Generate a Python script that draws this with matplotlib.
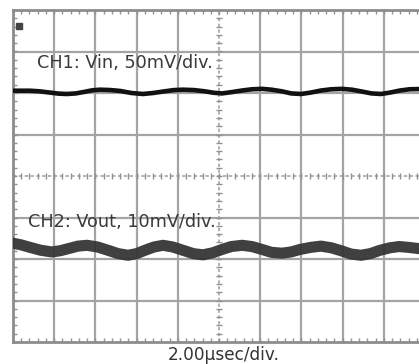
import matplotlib
matplotlib.use("Agg")
import matplotlib.pyplot as plt
import numpy as np

# time in microseconds (2 us/div), amplitudes in screen divisions
ch1_t = [0.0, 0.825, 1.3, 1.796, 2.2, 2.621, 3.05, 3.495, 3.85, 4.223, 4.7, 5.194, 5.75, 6.311,
         6.8, 7.282, 7.8, 8.252, 8.8, 9.32, 9.75, 10.146, 10.6, 11.117, 11.6, 12.087, 12.55,
         13.058, 13.5, 13.981, 14.45, 14.951, 15.45, 15.971, 16.45, 16.942, 17.4, 17.864,
         18.3, 18.786, 19.25, 19.709, 20.2]
ch1_v = [2.055, 2.055, 2.04, 2.01, 1.985, 1.976, 1.99, 2.03, 2.065, 2.08, 2.072, 2.05, 2.0, 1.976,
         2.0, 2.035, 2.07, 2.08, 2.07, 2.04, 2.005, 1.99, 2.02, 2.06, 2.09, 2.10, 2.08,
         2.04, 1.99, 1.976, 2.01, 2.06, 2.09, 2.10, 2.08, 2.035, 1.99, 1.976,
         2.01, 2.06, 2.09, 2.095, 2.08]
ch2_t = [0.0, 0.4, 0.825, 1.35, 1.893, 2.3, 2.767, 3.15, 3.592, 4.1, 4.612, 5.1, 5.583, 6.0,
         6.408, 6.85, 7.282, 7.75, 8.252, 8.75, 9.223, 9.7, 10.146, 10.6, 11.117, 11.6, 12.087,
         12.55, 13.058, 13.5, 13.932, 14.45, 14.951, 15.45, 15.922, 16.4, 16.893, 17.35,
         17.816, 18.3, 18.738, 19.2, 19.709, 20.2]
ch2_v = [-1.62, -1.66, -1.72, -1.79, -1.83, -1.80, -1.74, -1.69, -1.67, -1.71, -1.79, -1.87, -1.91, -1.87,
         -1.79, -1.71, -1.67, -1.71, -1.79, -1.87, -1.90, -1.85, -1.77, -1.70, -1.67, -1.70, -1.77,
         -1.84, -1.86, -1.83, -1.77, -1.72, -1.69, -1.73, -1.80, -1.88, -1.91, -1.87,
         -1.79, -1.73, -1.70, -1.72, -1.75, -1.77]

ch1_label = "CH1: Vin, 50mV/div."
ch2_label = "CH2: Vout, 10mV/div."
time_label = "2.00\u00b5sec/div."

W, H = 419, 364
fig = plt.figure(figsize=(W / 100, H / 100), dpi=100)
fig.patch.set_facecolor("white")
ax = fig.add_axes([13 / W, 22 / H, 412 / W, 332 / H])
ax.set_xlim(0, 20)
ax.set_ylim(-4, 4)
ax.set_facecolor("white")

grid_c = "#a4a4a4"
for x in np.arange(2, 20, 2):
    if x == 10:
        continue
    ax.axvline(x, color=grid_c, lw=1.6, zorder=1)
for y in [-3, -2, -1, 1, 2, 3]:
    ax.axhline(y, color=grid_c, lw=1.6, zorder=1)
# centre lines with small ticks
ax.axvline(10, color=grid_c, lw=1.2, ls=(0, (2, 1.5)), zorder=1)
ax.axhline(0, color=grid_c, lw=1.2, ls=(0, (2, 1.5)), zorder=1)
minor_x = np.arange(0, 20.01, 0.4)
minor_y = np.arange(-4, 4.01, 0.2)
ax.plot(minor_x, np.zeros_like(minor_x), ls="none", marker="|", ms=4, mew=1.0, color="#909090", zorder=1)
ax.plot(np.full_like(minor_y, 10), minor_y, ls="none", marker="_", ms=4, mew=1.0, color="#909090", zorder=1)

for s in ax.spines.values():
    s.set_color("#8c8c8c")
    s.set_linewidth(2.0)
ax.set_xticks(np.arange(0, 20.01, 0.4), minor=True)
ax.set_yticks(np.arange(-4, 4.01, 0.2), minor=True)
ax.set_xticks([])
ax.set_yticks([])
ax.tick_params(which="minor", direction="in", length=3, width=1, color="#909090",
               top=True, bottom=True, left=True, right=True,
               labelbottom=False, labelleft=False)

ax.plot(ch1_t, ch1_v, color="#111111", lw=3.3, solid_capstyle="round",
        solid_joinstyle="round", zorder=3)
ax.plot(ch2_t, ch2_v, color="#363636", lw=8.0, alpha=0.95, solid_capstyle="round",
        solid_joinstyle="round", zorder=3)

ax.plot([0.3], [3.62], marker="s", ms=4, color="#444444", zorder=4)

ax.text(1.15, 2.73, ch1_label, fontsize=12.7, family="DejaVu Sans", color="#3a3a3a",
        va="center", ha="left", zorder=4)
ax.text(0.73, -1.12, ch2_label, fontsize=12.7, family="DejaVu Sans", color="#3a3a3a",
        va="center", ha="left", zorder=4)
fig.text(224 / W, 1 - 355 / H, time_label, fontsize=12.2, family="DejaVu Sans",
         color="#333333", ha="center", va="center")

fig.savefig("out.png", dpi=100, facecolor="white")
